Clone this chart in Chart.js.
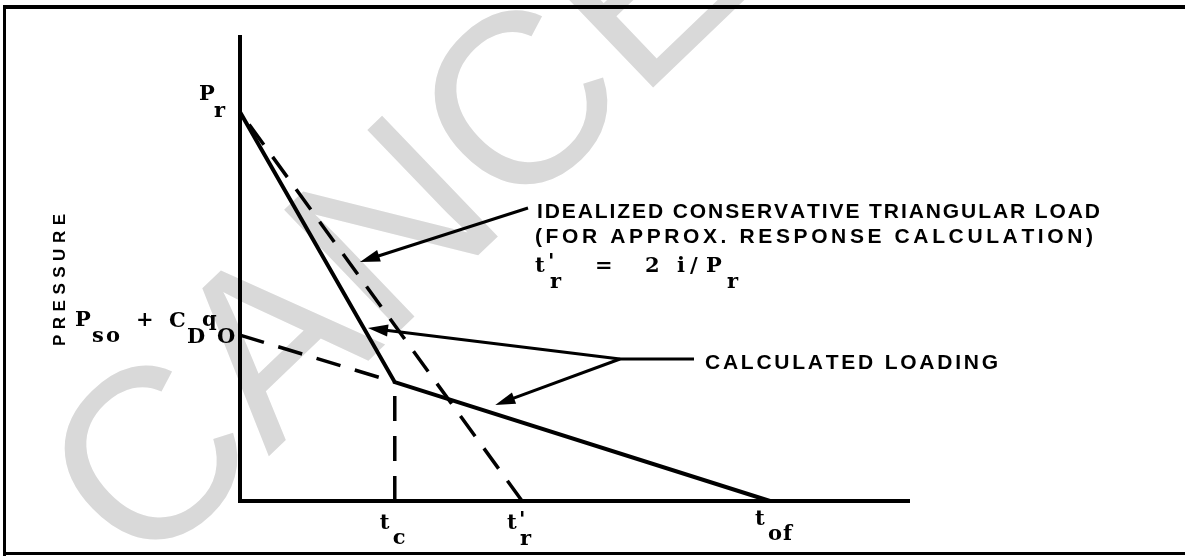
<!DOCTYPE html>
<html>
<head>
<meta charset="utf-8">
<script src="https://cdn.jsdelivr.net/npm/chart.js@4"></script>
<style>
html, body { margin: 0; padding: 0; background: #fff; }
canvas { display: block; }
</style>
</head>
<body>
<canvas id="loadChart" width="1185" height="560"></canvas>
<script>
// times on the abscissa: tc, t'r, tof and the end of the axis
var timeNames = ['tc', 'tr', 'tof'];
var timeValues = [2.31, 4.21, 7.91];
var timeMax = 10;

// pressures: Pr, Pso + CD q0, pressure at tc
var pressureNames = ['Pr', 'Pso', 'Pc'];
var pressureValues = [8.35, 3.56, 2.55];
var pressureMax = 10;

// calculated loading  Pr -> (tc, Pc) -> tof
var calcT = [0, 2.31, 7.91];
var calcP = [8.35, 2.55, 0];
// idealized conservative triangle, drawn from t'r back up to Pr
var idealT = [4.21, 0];
var idealP = [0, 8.35];
// drag phase line from the pressure axis to tc
var dragT = [0, 2.31];
var dragP = [3.56, 2.55];
// tc drop line, from the time axis up to the knee
var dropT = [2.31, 2.31];
var dropP = [0, 2.55];

// where the leader arrows touch the curves
var arrowT = [1.79, 1.91, 3.81];
var arrowP = [5.13, 3.71, 2.06];

function pts(xs, ys) {
    var out = [];
    for (var i = 0; i < xs.length; i++) {
        out.push({x: xs[i], y: ys[i]});
    }
    return out;
}

function line(data, width, dash) {
    return {
        data: data,
        showLine: true,
        borderColor: '#000',
        borderWidth: width,
        borderDash: dash || [],
        pointRadius: 0,
        fill: false,
        tension: 0,
        clip: false
    };
}

var serif = 'bold 21px "DejaVu Serif"';
var caps = 'bold 21px "Liberation Sans"';

function spaced(ctx, str, x, y, w) {
    var sum = 0;
    for (var i = 0; i < str.length; i++) sum += ctx.measureText(str[i]).width;
    var gap = (w - sum) / (str.length - 1);
    for (var j = 0; j < str.length; j++) {
        ctx.fillText(str[j], x, y);
        x += ctx.measureText(str[j]).width + gap;
    }
}

function arrow(ctx, x1, y1, x2, y2) {
    var a = Math.atan2(y2 - y1, x2 - x1);
    var len = 20, half = 6;
    ctx.beginPath();
    ctx.moveTo(x1, y1);
    ctx.lineTo(x2 - Math.cos(a) * len * 0.8, y2 - Math.sin(a) * len * 0.8);
    ctx.stroke();
    ctx.beginPath();
    ctx.moveTo(x2, y2);
    ctx.lineTo(x2 - Math.cos(a) * len - Math.sin(a) * half, y2 - Math.sin(a) * len + Math.cos(a) * half);
    ctx.lineTo(x2 - Math.cos(a) * len + Math.sin(a) * half, y2 - Math.sin(a) * len - Math.cos(a) * half);
    ctx.closePath();
    ctx.fill();
}

var paper = {
    id: 'paper',
    beforeDatasetsDraw: function (chart) {
        var ctx = chart.ctx;
        ctx.save();
        // watermark
        ctx.fillStyle = '#d9d9d9';
        ctx.font = '243px "Liberation Sans"';
        ctx.translate(142, 578);
        ctx.rotate(-0.765);
        ctx.fillText('CANCELLED', 0, 0);
        ctx.restore();

        // frame
        ctx.save();
        ctx.fillStyle = '#000';
        ctx.fillRect(3, 5, 1182, 4);
        ctx.fillRect(3, 5, 3, 551);
        ctx.fillRect(3, 552, 1182, 3);
        ctx.restore();
    },
    afterDatasetsDraw: function (chart) {
        var ctx = chart.ctx;
        var xs = chart.scales.x, ys = chart.scales.y;
        ctx.save();
        ctx.fillStyle = '#000';
        ctx.strokeStyle = '#000';
        ctx.lineWidth = 3;

        var tip = [];
        for (var i = 0; i < arrowT.length; i++) {
            tip.push([xs.getPixelForValue(arrowT[i]), ys.getPixelForValue(arrowP[i])]);
        }
        arrow(ctx, 528, 208, tip[0][0], tip[0][1]);
        ctx.beginPath();
        ctx.moveTo(620, 359);
        ctx.lineTo(694, 359);
        ctx.stroke();
        arrow(ctx, 620, 359, tip[1][0], tip[1][1]);
        arrow(ctx, 620, 359, tip[2][0], tip[2][1]);

        // notes
        ctx.font = caps;
        spaced(ctx, 'IDEALIZED CONSERVATIVE TRIANGULAR LOAD', 537, 218, 563);
        spaced(ctx, '(FOR APPROX. RESPONSE CALCULATION)', 535, 243, 558);
        spaced(ctx, 'CALCULATED LOADING', 705, 369, 293);

        ctx.font = 'bold 17px "Liberation Sans"';
        ctx.save();
        ctx.translate(65, 346);
        ctx.rotate(-Math.PI / 2);
        spaced(ctx, 'PRESSURE', 0, 0, 132);
        ctx.restore();

        ctx.font = serif;
        ctx.textBaseline = 'alphabetic';
        // t'r = 2 i/Pr
        ctx.fillText('t', 535, 272);
        ctx.fillText("'", 548, 268);
        ctx.fillText('r', 550, 288);
        ctx.fillText('=', 595, 272);
        ctx.fillText('2', 645, 272);
        ctx.fillText('i', 677, 272);
        ctx.fillText('/', 690, 272);
        ctx.fillText('P', 706, 272);
        ctx.fillText('r', 727, 288);

        // pressure labels
        var x0 = xs.getPixelForValue(0);
        var yPr = ys.getPixelForValue(pressureValues[0]);
        var yPs = ys.getPixelForValue(pressureValues[1]);
        ctx.fillText('P', x0 - 41, yPr - 12);
        ctx.fillText('r', x0 - 26, yPr + 5);
        ctx.fillText('P', x0 - 165, yPs - 9);
        ctx.fillText('s', x0 - 148, yPs + 7);
        ctx.fillText('o', x0 - 134, yPs + 7);
        ctx.fillText('+', x0 - 104, yPs - 9);
        ctx.fillText('C', x0 - 71, yPs - 8);
        ctx.fillText('D', x0 - 53, yPs + 8);
        ctx.fillText('q', x0 - 38, yPs - 9);
        ctx.fillText('O', x0 - 23, yPs + 8);

        // time labels
        var y0 = ys.getPixelForValue(0);
        var tc = xs.getPixelForValue(timeValues[0]);
        var tr = xs.getPixelForValue(timeValues[1]);
        var tf = xs.getPixelForValue(timeValues[2]);
        ctx.fillText('t', tc - 15, y0 + 28);
        ctx.fillText('c', tc - 2, y0 + 43);
        ctx.fillText('t', tr - 15, y0 + 28);
        ctx.fillText("'", tr - 3, y0 + 25);
        ctx.fillText('r', tr - 2, y0 + 44);
        ctx.fillText('t', tf - 15, y0 + 24);
        ctx.fillText('o', tf - 2, y0 + 39);
        ctx.fillText('f', tf + 13, y0 + 39);
        ctx.restore();
    }
};

var chart = new Chart(document.getElementById('loadChart').getContext('2d'), {
    type: 'scatter',
    data: {
        datasets: [
            line([{x: 0, y: pressureMax}, {x: 0, y: 0}, {x: timeMax, y: 0}], 4),
            line(pts(calcT, calcP), 4),
            line(pts(idealT, idealP), 3.5, [25, 15]),
            line(pts(dragT, dragP), 3.5, [25, 15]),
            line(pts(dropT, dropP), 3.5, [25, 15])
        ]
    },
    options: {
        responsive: false,
        animation: false,
        devicePixelRatio: 1,
        layout: {padding: {left: 240, right: 275, top: 35, bottom: 59}},
        scales: {
            x: {type: 'linear', min: 0, max: timeMax, display: false},
            y: {type: 'linear', min: 0, max: pressureMax, display: false}
        },
        plugins: {
            legend: {display: false},
            tooltip: {enabled: false}
        }
    },
    plugins: [paper]
});
</script>
</body>
</html>
